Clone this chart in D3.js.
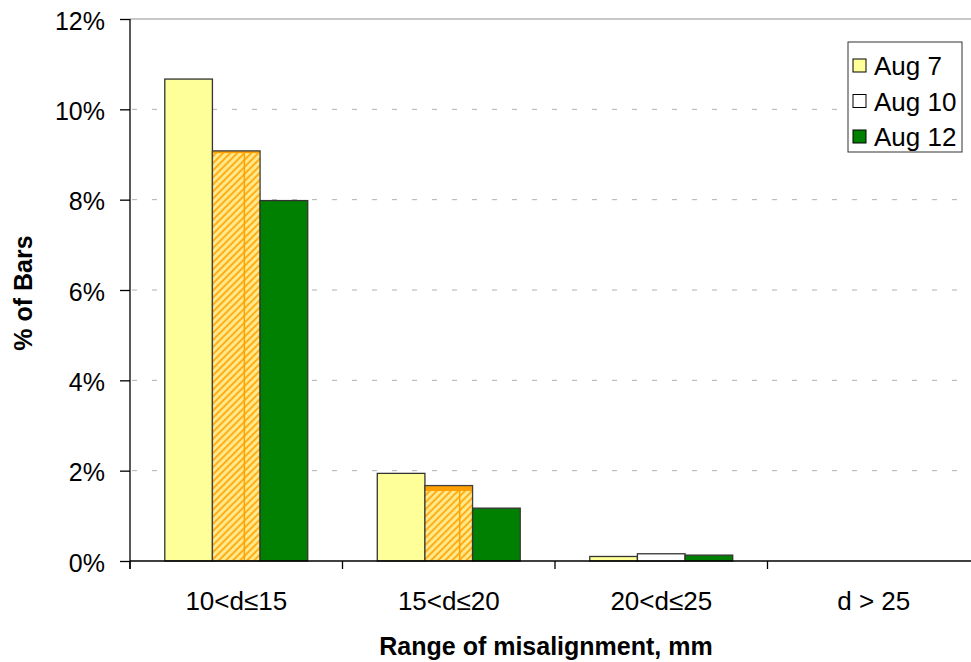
<!DOCTYPE html>
<html>
<head>
<meta charset="utf-8">
<script src="https://cdn.jsdelivr.net/npm/d3@7"></script>
<style>
  html, body { margin: 0; padding: 0; background: #fff; overflow: hidden; }
  svg { display: block; font-family: Arial, "Liberation Sans", sans-serif; }
</style>
</head>
<body>
<svg id="chart" width="971" height="662"></svg>
<script>
const categories = ["10<d\u226415", "15<d\u226420", "20<d\u226425", "d > 25"];
const seriesNames = ["Aug 7", "Aug 10", "Aug 12"];
const aug7  = [10.67, 1.94, 0.10, 0];
const aug10 = [9.08, 1.67, 0.16, 0];
const aug12 = [7.98, 1.17, 0.13, 0];
// hatched highlight overlay on the Aug 10 bars (top of hatched part)
const aug10Hatch = [9.03, 1.55, null, null];
const yTicks = [0, 2, 4, 6, 8, 10, 12];
const seriesColors = ["#FFFF99", "#FFFFFF", "#008000"];

(function () {
const svg = d3.select("#chart");
const pL = 130, pR = 980, pT = 19, pB = 561;
const FONT = "Arial, 'Liberation Sans', sans-serif";

const x0 = d3.scaleBand().domain(categories).range([pL, pR]).paddingInner(0).paddingOuter(0);
const x1 = d3.scaleBand().domain(seriesNames).range([0, x0.bandwidth()]).paddingInner(0).paddingOuter(0.73);
const y = d3.scaleLinear().domain([0, 12]).range([pB, pT]);

// hatch pattern
const defs = svg.append("defs");
const pat = defs.append("pattern").attr("id", "hatch").attr("patternUnits", "userSpaceOnUse")
  .attr("width", 5).attr("height", 5).attr("patternTransform", "rotate(45)");
pat.append("rect").attr("width", 5).attr("height", 5).attr("fill", "#FFE98A");
pat.append("rect").attr("width", 2).attr("height", 5).attr("fill", "#FFAE1A");

// grid lines
svg.append("g").selectAll("line").data(yTicks.filter(t => t > 0 && t < 12)).join("line")
  .attr("x1", pL).attr("x2", pR).attr("y1", d => y(d)).attr("y2", d => y(d))
  .attr("stroke", "#b0b0b0").attr("stroke-width", 1).attr("stroke-dasharray", "5,15")
  .attr("stroke-dashoffset", -2);
// top border line
svg.append("line").attr("x1", pL).attr("x2", pR).attr("y1", y(12)).attr("y2", y(12))
  .attr("stroke", "#909090").attr("stroke-width", 1);

// bars
const series = [aug7, aug10, aug12];
const barData = [];
categories.forEach((c, i) => {
  seriesNames.forEach((s, j) => {
    barData.push({cat: c, ser: s, v: series[j][i], color: seriesColors[j], hatch: j === 1 ? aug10Hatch[i] : null, idx: i});
  });
});
const hatchLinePos = [0.67, 0.73];

const bars = svg.append("g");
barData.filter(d => d.v > 0).forEach(d => {
  const bx = x0(d.cat) + x1(d.ser), bw = x1.bandwidth();
  if (d.hatch != null) {
    bars.append("rect").attr("x", bx).attr("y", y(d.v)).attr("width", bw).attr("height", y(0) - y(d.v))
      .attr("fill", "#FFA000").attr("stroke", "none");
    bars.append("rect").attr("x", bx).attr("y", y(d.hatch)).attr("width", bw).attr("height", y(0) - y(d.hatch))
      .attr("fill", "url(#hatch)");
    const lx = bx + bw * hatchLinePos[d.idx];
    bars.append("line").attr("x1", lx).attr("x2", lx)
      .attr("y1", y(d.hatch)).attr("y2", y(0)).attr("stroke", "#FFA000").attr("stroke-width", 1.5);
    bars.append("rect").attr("x", bx).attr("y", y(d.v)).attr("width", bw).attr("height", y(0) - y(d.v))
      .attr("fill", "none").attr("stroke", "#404040").attr("stroke-width", 1.3);
  } else {
    bars.append("rect").attr("x", bx).attr("y", y(d.v)).attr("width", bw).attr("height", y(0) - y(d.v))
      .attr("fill", d.color).attr("stroke", "#333").attr("stroke-width", 1.3);
  }
});

// y axis
const yAxis = d3.axisLeft(y).tickValues(yTicks).tickFormat(d => d + "%").tickSize(10).tickPadding(15);
const gy = svg.append("g").attr("transform", `translate(${pL},0)`).call(yAxis);
gy.select(".domain").attr("stroke", "#000").attr("stroke-width", 1.3).attr("d", `M0,${pT}V${pB + 8}`);
gy.selectAll(".tick line").attr("stroke", "#000").attr("stroke-width", 1.3);
gy.selectAll(".tick text").attr("font-size", 25).attr("fill", "#000").attr("font-family", FONT)
  .attr("dy", "0.4em");

// x axis
const xAxis = d3.axisBottom(x0).tickSize(0).tickPadding(0);
const gx = svg.append("g").attr("transform", `translate(0,${pB})`).call(xAxis);
gx.select(".domain").attr("stroke", "#000").attr("stroke-width", 1.3).attr("d", `M${pL},0H${pR}`);
gx.selectAll(".tick text").attr("font-size", 26).attr("fill", "#000").attr("font-family", FONT)
  .attr("y", 49).attr("dy", 0);
// category boundary ticks
const bounds = categories.map(c => x0(c)).concat([pR]);
svg.append("g").selectAll("line").data(bounds).join("line")
  .attr("x1", d => d).attr("x2", d => d).attr("y1", pB).attr("y2", pB + 8)
  .attr("stroke", "#000").attr("stroke-width", 1.3);

// axis titles
svg.append("text").attr("x", 546).attr("y", 655).attr("text-anchor", "middle")
  .attr("font-size", 25).attr("font-weight", "bold").attr("font-family", FONT)
  .text("Range of misalignment, mm");
svg.append("text").attr("transform", "translate(32,293) rotate(-90)").attr("text-anchor", "middle")
  .attr("font-size", 25).attr("font-weight", "bold").attr("font-family", FONT).text("% of Bars");

// legend
const lg = svg.append("g");
lg.append("rect").attr("x", 848).attr("y", 42).attr("width", 114).attr("height", 110)
  .attr("fill", "#fff").attr("stroke", "#333").attr("stroke-width", 1);
seriesNames.forEach((s, i) => {
  const cy = 66 + i * 35.5;
  lg.append("rect").attr("x", 853).attr("y", cy - 7).attr("width", 13).attr("height", 13)
    .attr("fill", seriesColors[i]).attr("stroke", "#000").attr("stroke-width", 1);
  lg.append("text").attr("x", 874).attr("y", cy + 9).attr("font-size", 26).attr("font-family", FONT).text(s);
});
})();
</script>
</body>
</html>
